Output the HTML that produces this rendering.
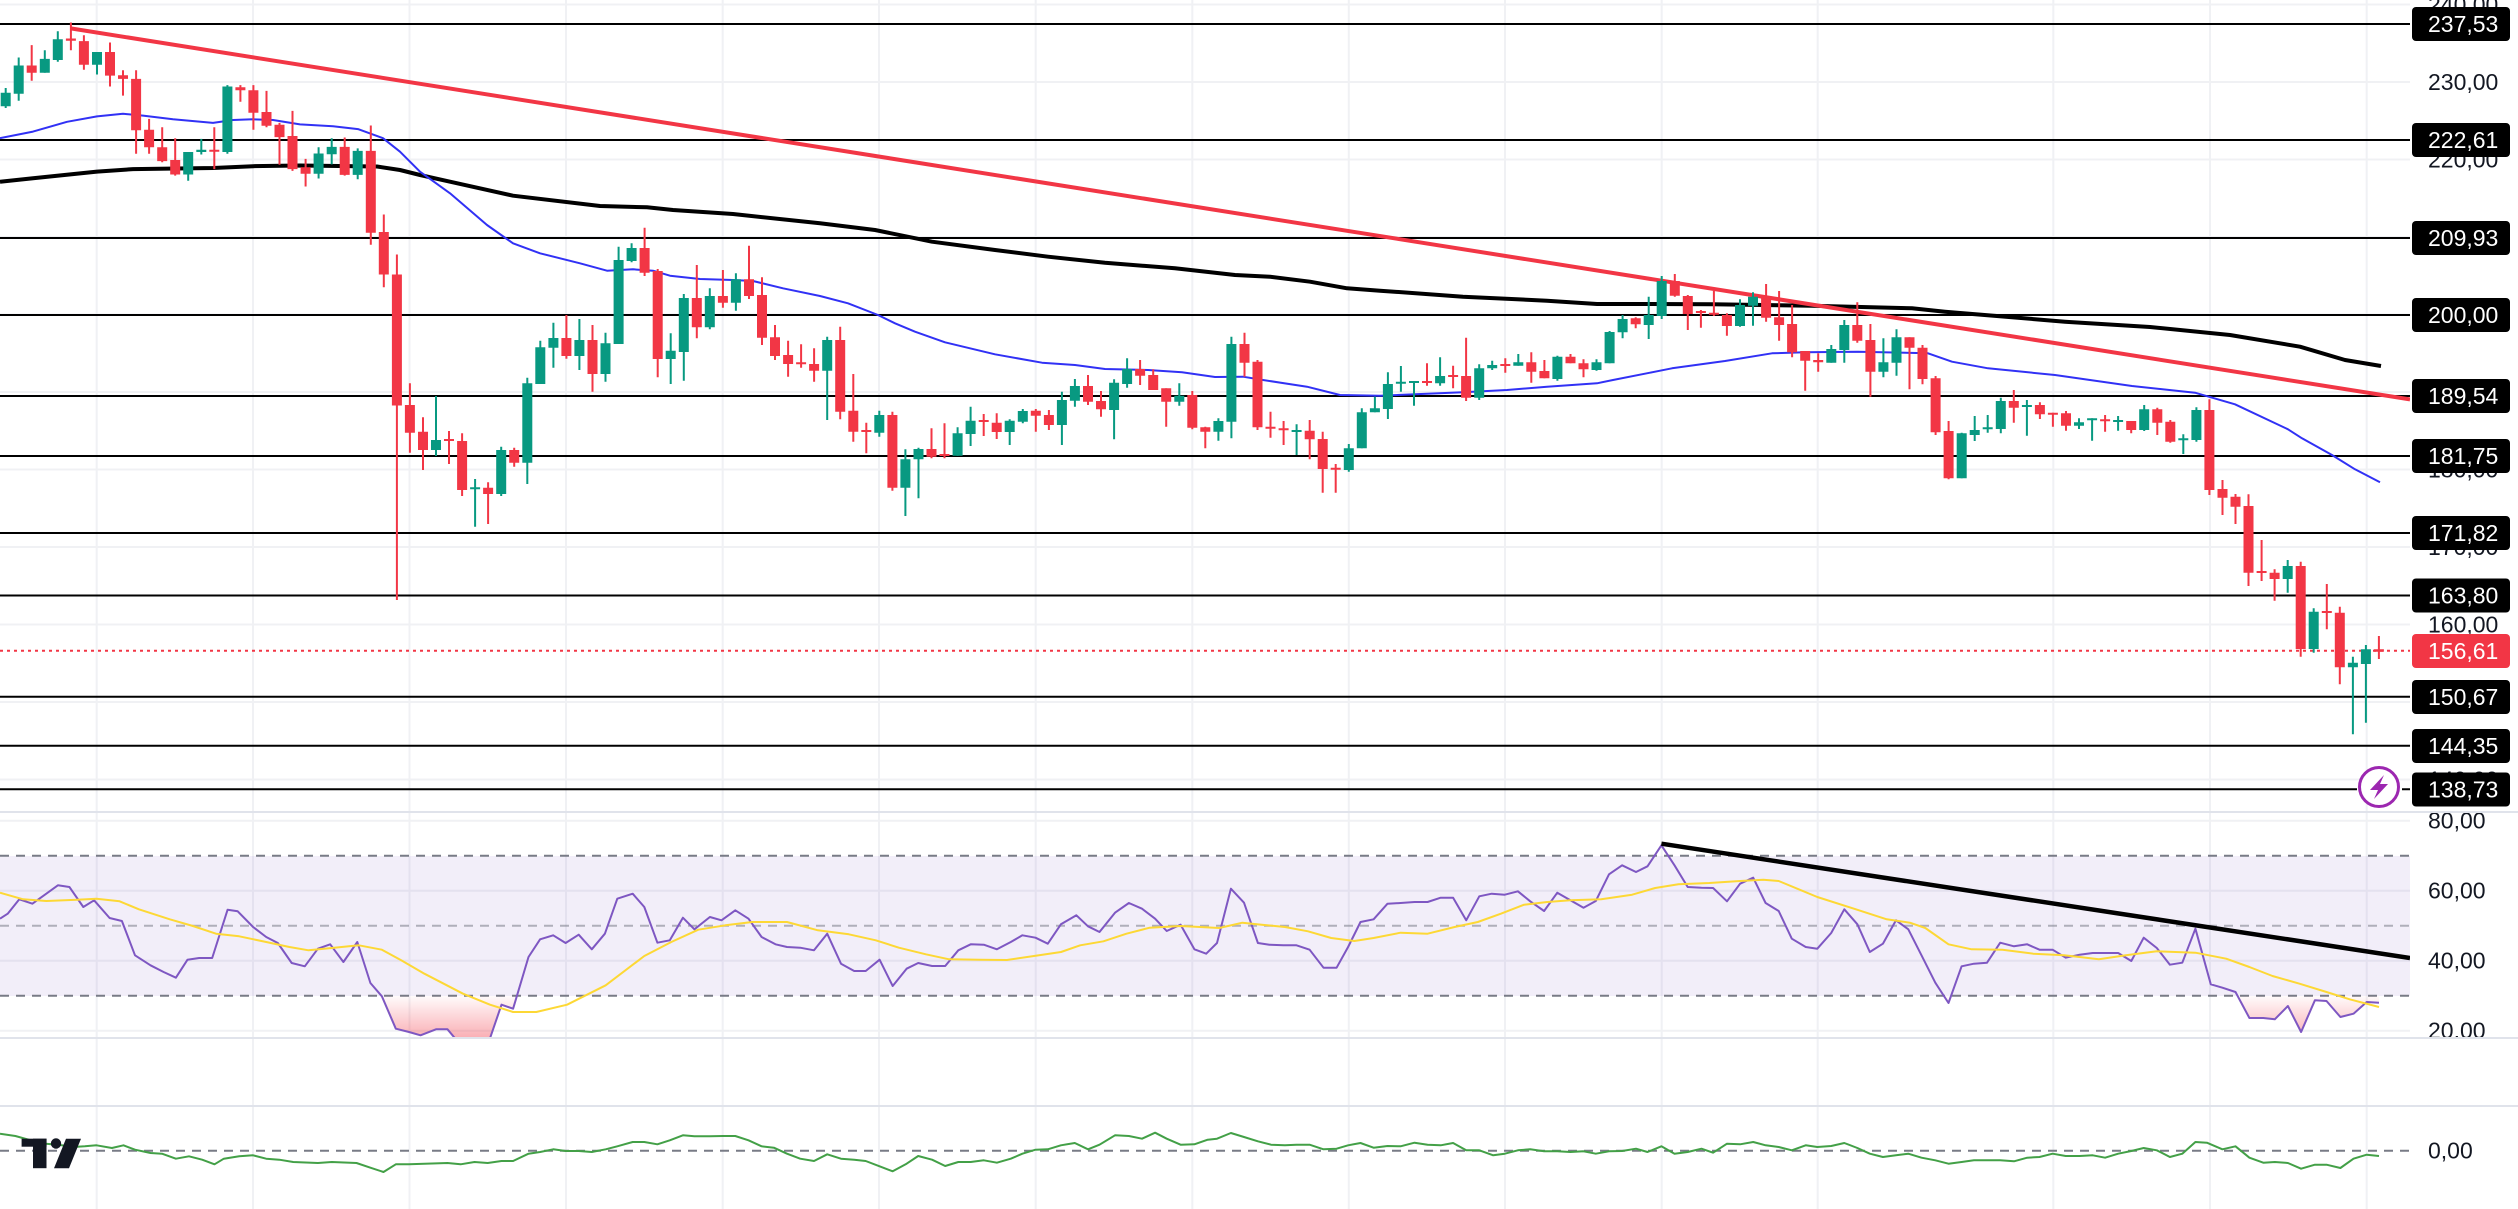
<!DOCTYPE html>
<html><head><meta charset="utf-8"><style>
html,body{margin:0;padding:0;background:#fff;}
body{width:2518px;height:1209px;overflow:hidden;}
svg{display:block;}
text{font-family:"Liberation Sans",sans-serif;font-size:23px;}
</style></head><body>
<svg width="2518" height="1209" viewBox="0 0 2518 1209" xmlns="http://www.w3.org/2000/svg">
<defs>
<clipPath id="cm"><rect x="0" y="0" width="2410" height="811"/></clipPath>
<clipPath id="cr"><rect x="0" y="813" width="2410" height="224"/></clipPath>
<clipPath id="crl"><rect x="2410" y="813" width="108" height="224"/></clipPath>
<clipPath id="cml"><rect x="2410" y="0" width="108" height="811"/></clipPath>
<clipPath id="cpink"><rect x="0" y="996" width="2410" height="41"/></clipPath>
<clipPath id="cb"><rect x="0" y="1107" width="2410" height="102"/></clipPath>
<linearGradient id="pg" gradientUnits="userSpaceOnUse" x1="0" y1="996" x2="0" y2="1038">
<stop offset="0" stop-color="#F23645" stop-opacity="0.02"/>
<stop offset="1" stop-color="#F23645" stop-opacity="0.4"/>
</linearGradient>
</defs>
<rect x="0" y="0" width="2518" height="1209" fill="#fff"/>

<path d="M96.7 0V1209M253 0V1209M409.5 0V1209M566 0V1209M722.7 0V1209M879 0V1209M1035.7 0V1209M1192.3 0V1209M1348.8 0V1209M1505 0V1209M1661.7 0V1209M1817.7 0V1209M2053.3 0V1209M2210 0V1209M2366.7 0V1209" stroke="#F0F1F4" stroke-width="2"/>
<path d="M0 4.5H2410M0 82H2410M0 159.5H2410M0 237H2410M0 314.5H2410M0 392H2410M0 469.5H2410M0 547H2410M0 624.5H2410M0 702H2410M0 779.5H2410" stroke="#F0F1F4" stroke-width="2"/>

<g clip-path="url(#cm)">
<path d="M0 24H2410M0 140H2410M0 238H2410M0 315H2410M0 396H2410M0 456H2410M0 533H2410M0 595.5H2410M0 696.8H2410M0 745.8H2410M0 789.3H2357M2402 789.3H2410" stroke="#000" stroke-width="2" fill="none"/>
<path d="M0 650.8H2410" stroke="#F23645" stroke-width="2" stroke-dasharray="3 4"/>
<polyline fill="none" stroke="#000" stroke-width="4" stroke-linejoin="round" points="0,181.8 33,178.2 97,171.6 133,169.1 213,168 253,166.2 300,165.5 377,166.5 400,170 420,175 450,181.7 513,195.7 600,206 647,207.3 673,210 733,214 820,223.3 875,230 932,241.7 995,250 1048,256.7 1105,262.7 1175,268.3 1235,275 1270,276.7 1310,281.7 1347,288.3 1380,290.7 1463,296.7 1547,300.7 1597,304 1650,304 1712,304.3 1812,305.7 1912,308.3 1945,311.7 2012,317.3 2065,321.7 2150,327 2230,335 2300,346.7 2345,360 2381,366"/>
<polyline fill="none" stroke="#3131F5" stroke-width="2" stroke-linejoin="round" points="0,138.2 33,131.6 67,121.8 97,116.4 123,113.8 143,115.6 173,119.3 213,122.9 233,120 253,119.3 273,120 300,124.4 333,126.2 358,129.1 383,138.2 400,151.7 420,171.7 450,193.3 487,225 513,243.3 540,253.3 580,263.3 607,270.7 633,269.3 653,270.7 670,275.7 700,279 733,280 753,281 783,288.3 820,296 848,303.3 878,315 895,323.3 915,331.7 945,342.3 995,354.3 1042,362.7 1075,365 1105,369 1148,370 1182,372.3 1215,377 1243,376.7 1263,380 1307,386.7 1340,395 1380,395.7 1463,392.3 1507,390 1547,386.7 1597,383.3 1613,380 1650,372.7 1672,368.3 1725,361 1772,353.3 1805,352.3 1858,351.7 1928,353.3 1952,361.7 1988,368.3 2055,375 2132,386 2195,392.7 2235,404.3 2288,429.3 2302,438.3 2332,455 2355,469.3 2380,482.3"/>
<path d="M70.7 28.4L2410 399.4" stroke="#F23645" stroke-width="4" fill="none"/>

<path fill="none" stroke="#089981" stroke-width="2" d="M5.7 88V108M18.7 57.5V100.7M44.8 50.2V72.7M57.8 31.3V61.8M97 52V74.5M188.2 152V180.7M201.3 138.9V154.5M227.4 85.1V153.8M318.6 147.3V178.5M331.7 138.2V164.4M357.7 148.4V179.3M436 396V456M475.1 479V526.7M501.2 446.7V496M527.3 377.7V484M540.3 340.7V384M553.4 322.7V367.7M579.4 319V370M605.5 332.7V381.7M618.6 246.7V344M631.6 243.3V262.3M670.7 333.3V384M683.8 294V380.7M709.8 288.3V329.3M735.9 273.3V310.7M827.2 336.7V420M879.3 410.7V436.7M905.4 449.3V516M918.5 447.7V498.3M957.6 427.3V455.7M970.6 406.7V446M1009.7 419.3V445M1022.8 409V423.3M1061.9 391.7V445M1074.9 379V406.7M1114.1 379.3V439.3M1127.1 358.3V387.7M1179.3 383.3V405.7M1218.4 418.3V440.7M1231.4 336.7V438.3M1296.6 424.3V455M1348.8 444V471.7M1361.8 408.3V448.3M1374.9 396.7V412.3M1387.9 372.3V419M1400.9 366V391.7M1414 381V405.7M1440.1 357.3V385.7M1479.2 364.3V400M1492.2 360.7V370M1518.3 354V365.7M1557.4 355.7V380.7M1596.5 359.3V370.7M1609.6 331V363.3M1622.6 315V338.3M1648.7 296.7V339M1661.7 276V319M1740 299.3V326.7M1753 292.3V325.7M1831.3 345V362.7M1844.3 320V362.7M1883.4 338.3V377.3M1896.5 329.3V375.7M1961.7 432.7V478.3M1974.7 416V441M1987.7 415V432.7M2000.8 397.7V433.3M2026.9 400V435.7M2079 418.3V429M2092.1 418.3V440.7M2118.1 416V430.7M2144.2 405V431M2183.3 434.3V454M2196.4 407.3V441.7M2287.7 560V592.7M2313.7 608.3V652.7M2352.9 656.7V734.3M2365.9 645V722.7"/>
<path fill="#089981" d="M0.7 92.7h10V106.2h-10zM13.7 65.5h10V93.8h-10zM39.8 58.9h10V72.7h-10zM52.8 39.3h10V60h-10zM92 52h10V64.7h-10zM183.2 152h10V174.5h-10zM196.3 149.8h10V152h-10zM222.4 86.5h10V152h-10zM313.6 153.5h10V173.8h-10zM326.7 146.9h10V154.2h-10zM352.7 150.9h10V174.9h-10zM431 440h10V450h-10zM470.1 487.3h10V489.3h-10zM496.2 450h10V494h-10zM522.3 383.3h10V462.7h-10zM535.3 347.3h10V384h-10zM548.4 338h10V347.7h-10zM574.4 340h10V356h-10zM600.5 343.3h10V374h-10zM613.6 260h10V344h-10zM626.6 248h10V261h-10zM665.7 350.7h10V359h-10zM678.8 298h10V352h-10zM704.8 296h10V327.3h-10zM730.9 279.3h10V302.7h-10zM822.2 340h10V370.7h-10zM874.3 415h10V432.7h-10zM900.4 459.3h10V487.7h-10zM913.5 449h10V459.3h-10zM952.6 433.3h10V455.7h-10zM965.6 420.7h10V434h-10zM1004.7 420.7h10V432h-10zM1017.8 411h10V421.7h-10zM1056.9 400h10V425h-10zM1069.9 386h10V400.7h-10zM1109.1 382.7h10V410h-10zM1122.1 369h10V384h-10zM1174.3 395.7h10V401.7h-10zM1213.4 421h10V431.7h-10zM1226.4 344h10V421.7h-10zM1291.6 430h10V432h-10zM1343.8 448.3h10V470h-10zM1356.8 412.3h10V448.3h-10zM1369.9 408.3h10V412.3h-10zM1382.9 384h10V409h-10zM1395.9 381.7h10V383.7h-10zM1409 381h10V383h-10zM1435.1 376h10V383.3h-10zM1474.2 368.3h10V397.7h-10zM1487.2 365h10V368.3h-10zM1513.3 362.3h10V365.7h-10zM1552.4 356.7h10V379h-10zM1591.5 362.3h10V370h-10zM1604.6 332h10V363.3h-10zM1617.6 319h10V332.3h-10zM1643.7 315h10V325h-10zM1656.7 281h10V316h-10zM1735 305h10V326h-10zM1748 296.7h10V305.7h-10zM1826.3 349h10V362.7h-10zM1839.3 325h10V350h-10zM1878.4 362.3h10V371.7h-10zM1891.5 337.3h10V362.7h-10zM1956.7 433.3h10V478.3h-10zM1969.7 430h10V435h-10zM1982.7 427.3h10V429.3h-10zM1995.8 401h10V429h-10zM2021.9 405h10V407h-10zM2074 422.3h10V425.7h-10zM2087.1 418.3h10V420.3h-10zM2113.1 420h10V422h-10zM2139.2 409.3h10V430h-10zM2178.3 438.3h10V440.3h-10zM2191.4 410h10V440h-10zM2282.7 566h10V579h-10zM2308.7 611.7h10V649h-10zM2347.9 662.7h10V667.3h-10zM2360.9 649.3h10V664h-10z"/>
<path fill="none" stroke="#F23645" stroke-width="2" d="M31.7 45.1V80.7M70.9 22.5V50.2M83.9 35.3V69.8M110 42.5V86.5M123 70.2V95.6M136.1 70.2V153.8M149.1 118.9V153.8M162.2 127.3V162.2M175.2 138.2V175.6M214.3 127.3V169.1M240.4 85.1V101.8M253.4 85.1V129.8M266.5 90.9V127.3M279.5 122.9V164.7M292.5 110.9V170.9M305.6 158.9V186.5M344.7 137.5V175.6M370.8 125.5V244.7M383.8 214.5V287.3M396.9 254.5V600M409.9 383.3V452.7M423 417.3V470M449 431V464M462.1 433.3V496M488.1 482.3V524M514.2 447.7V466.7M566.4 315V358.7M592.5 325V391.7M644.6 227.7V276M657.7 269V377.3M696.8 265V338.3M722.9 270V307.7M749 245.7V299M762 277.3V345M775 325V360M788.1 340.7V376.7M801.1 344.3V367.7M814.1 348.3V381.7M840.2 326.7V419.3M853.3 374V441.7M866.3 422.7V453.3M892.4 411.7V490.7M931.5 428.3V458.3M944.5 423.3V458.3M983.7 414V436M996.7 413.3V439M1035.8 409V431.7M1048.9 410V430M1088 375V405M1101 391V416.7M1140.1 360V385M1153.2 369.3V390M1166.2 388.3V426.7M1192.3 391V429.3M1205.3 426.7V448.3M1244.5 332.7V376.7M1257.5 360V430M1270.5 411.7V437.7M1283.6 421V445M1309.7 420V459.3M1322.7 431.7V492.7M1335.7 464V492.7M1427 363.3V385.7M1453.1 365.7V388.3M1466.1 337.7V401M1505.3 358.3V372.7M1531.3 352.3V382.7M1544.4 360V378.3M1570.5 354V363.3M1583.5 359.3V377.3M1635.7 317.3V328.3M1674.8 274V296.7M1687.8 295V330M1700.9 310V327.7M1713.9 291V316M1726.9 313.3V335.7M1766.1 284V321.7M1779.1 291V340.7M1792.1 305V357.3M1805.2 351V390.7M1818.2 353.3V371.7M1857.3 302.3V342.7M1870.4 324V396.7M1909.5 337.3V389.3M1922.5 345V384.3M1935.6 376V435M1948.6 421V479.3M2013.8 390V422.7M2039.9 402.3V419M2052.9 412.7V426.7M2066 411V430.7M2105.1 415V431.7M2131.2 421V433.3M2157.3 407.7V435M2170.3 420V442.7M2209.4 399.3V495M2222.5 480V515M2235.5 494V524M2248.5 494.3V586M2261.6 540V581M2274.6 569.3V600.7M2300.7 561.7V656.7M2326.8 584V629.3M2339.8 606.7V684.3M2378.9 636V659"/>
<path fill="#F23645" d="M26.7 65.5h10V72.7h-10zM65.9 38.5h10V40.7h-10zM78.9 41.1h10V64.7h-10zM105 52h10V75.6h-10zM118 75.3h10V78.9h-10zM131.1 78.9h10V130.2h-10zM144.1 129.8h10V147.3h-10zM157.2 147.3h10V161.1h-10zM170.2 160h10V174.5h-10zM209.3 149.8h10V151.8h-10zM235.4 87.3h10V90.2h-10zM248.4 90.2h10V112.7h-10zM261.5 112h10V125.8h-10zM274.5 124.7h10V137.1h-10zM287.5 136h10V169.1h-10zM300.6 167.3h10V173.8h-10zM339.7 146.9h10V174.9h-10zM365.8 150.9h10V232.7h-10zM378.8 232h10V274.5h-10zM391.9 274.5h10V405.5h-10zM404.9 405h10V432.7h-10zM418 431.7h10V450h-10zM444 439h10V441h-10zM457.1 441h10V490h-10zM483.1 487.7h10V494h-10zM509.2 450h10V462.7h-10zM561.4 338h10V356h-10zM587.5 340h10V374h-10zM639.6 248h10V272.7h-10zM652.7 271h10V359h-10zM691.8 298h10V327.3h-10zM717.9 296h10V302.7h-10zM744 279.3h10V296h-10zM757 295h10V337.7h-10zM770 337.3h10V356h-10zM783.1 355h10V364h-10zM796.1 362.3h10V364.3h-10zM809.1 364h10V370.7h-10zM835.2 340h10V411.7h-10zM848.3 410.7h10V431.7h-10zM861.3 430h10V432h-10zM887.4 415h10V487.7h-10zM926.5 449h10V456.7h-10zM939.5 454h10V456h-10zM978.7 420h10V422h-10zM991.7 422.7h10V432h-10zM1030.8 410.7h10V415.7h-10zM1043.9 415h10V425h-10zM1083 386h10V401.7h-10zM1096 401h10V409.3h-10zM1135.1 369h10V375.7h-10zM1148.2 375h10V390h-10zM1161.2 388.3h10V401.7h-10zM1187.3 395h10V427.7h-10zM1200.3 427.3h10V431.7h-10zM1239.5 344h10V362.7h-10zM1252.5 361.7h10V427.3h-10zM1265.5 426.7h10V428.7h-10zM1278.6 428.3h10V430.3h-10zM1304.7 430.7h10V439.3h-10zM1317.7 439h10V469h-10zM1330.7 467.7h10V469.7h-10zM1422 381h10V383h-10zM1448.1 375h10V377h-10zM1461.1 376h10V397.7h-10zM1500.3 364h10V366h-10zM1526.3 362.3h10V371.7h-10zM1539.4 371h10V378.3h-10zM1565.5 356.7h10V363.3h-10zM1578.5 363.3h10V369.3h-10zM1630.7 318.3h10V324.3h-10zM1669.8 281h10V295.7h-10zM1682.8 296h10V314h-10zM1695.9 311h10V313h-10zM1708.9 312.7h10V314.7h-10zM1721.9 315h10V326h-10zM1761.1 296h10V317.7h-10zM1774.1 317.3h10V325h-10zM1787.1 324h10V352.3h-10zM1800.2 351h10V360.7h-10zM1813.2 360h10V362.3h-10zM1852.3 325h10V340.7h-10zM1865.4 340h10V371.7h-10zM1904.5 337.3h10V347.7h-10zM1917.5 347.7h10V379h-10zM1930.6 378.3h10V432.3h-10zM1943.6 431h10V478.3h-10zM2008.8 401h10V407.7h-10zM2034.9 405h10V414.3h-10zM2047.9 412.7h10V414.7h-10zM2061 413.3h10V425.7h-10zM2100.1 419.3h10V421.3h-10zM2126.2 421h10V430h-10zM2152.3 409.3h10V422.7h-10zM2165.3 421.7h10V441.7h-10zM2204.4 410h10V490h-10zM2217.5 489h10V497.7h-10zM2230.5 496.7h10V506.7h-10zM2243.5 506h10V572.7h-10zM2256.6 571h10V573h-10zM2269.6 572.7h10V579h-10zM2295.7 566h10V649h-10zM2321.8 611h10V613h-10zM2334.8 612.7h10V667.3h-10zM2373.9 649.3h10V651.7h-10z"/>

<circle cx="2379" cy="787" r="19.5" fill="#fff" stroke="#9C27B0" stroke-width="3"/>
<polygon points="2384,775 2370,790 2378,790 2374,799 2388,784 2380,784" fill="#9C27B0"/>
</g>

<g clip-path="url(#cml)" fill="#131722">
<text x="2428" y="12.5">240,00</text>
<text x="2428" y="90">230,00</text>
<text x="2428" y="167.5">220,00</text>
<text x="2428" y="477.5">180,00</text>
<text x="2428" y="555">170,00</text>
<text x="2428" y="632.5">160,00</text>
<text x="2428" y="787.5">140,00</text>
</g>
<g>
<rect x="2412" y="7" width="98" height="34" rx="4" fill="#000"/><text x="2428" y="32" fill="#fff">237,53</text>
<rect x="2412" y="123" width="98" height="34" rx="4" fill="#000"/><text x="2428" y="148" fill="#fff">222,61</text>
<rect x="2412" y="221" width="98" height="34" rx="4" fill="#000"/><text x="2428" y="246" fill="#fff">209,93</text>
<rect x="2412" y="298" width="98" height="34" rx="4" fill="#000"/><text x="2428" y="323" fill="#fff">200,00</text>
<rect x="2412" y="379" width="98" height="34" rx="4" fill="#000"/><text x="2428" y="404" fill="#fff">189,54</text>
<rect x="2412" y="439" width="98" height="34" rx="4" fill="#000"/><text x="2428" y="464" fill="#fff">181,75</text>
<rect x="2412" y="516" width="98" height="34" rx="4" fill="#000"/><text x="2428" y="541" fill="#fff">171,82</text>
<rect x="2412" y="578.5" width="98" height="34" rx="4" fill="#000"/><text x="2428" y="603.5" fill="#fff">163,80</text>
<rect x="2412" y="634" width="98" height="34" rx="4" fill="#F23645"/><text x="2428" y="659" fill="#fff">156,61</text>
<rect x="2412" y="680" width="98" height="34" rx="4" fill="#000"/><text x="2428" y="705" fill="#fff">150,67</text>
<rect x="2412" y="729" width="98" height="34" rx="4" fill="#000"/><text x="2428" y="754" fill="#fff">144,35</text>
<rect x="2412" y="772.5" width="98" height="34" rx="4" fill="#000"/><text x="2428" y="797.5" fill="#fff">138,73</text>
</g>

<path d="M0 812H2518M0 1038H2518M0 1106H2518" stroke="#E0E3EB" stroke-width="2"/>

<g clip-path="url(#cr)">
<path d="M0 820.7H2410M0 890.7H2410M0 960.7H2410M0 1030.7H2410" stroke="#F0F1F4" stroke-width="2"/>
<rect x="0" y="856" width="2410" height="140" fill="#7E57C2" fill-opacity="0.1"/>
<path d="M0 855.7H2410M0 995.7H2410" stroke="#787B86" stroke-width="2" stroke-dasharray="9 7"/>
<path d="M0 925.7H2410" stroke="#787B86" stroke-opacity="0.55" stroke-width="2" stroke-dasharray="9 7"/>
<g clip-path="url(#cpink)" fill="url(#pg)">
<polygon points="357.3,996 357.3,942 370.4,983 381.9,996.3 395.8,1028.7 409,1032 420.5,1035.3 436,1029.3 447.5,1029.3 460.6,1045 487.7,1045 501.5,1004.7 513.1,1008.7 528.5,957 528.5,996"/>
<polygon points="1935.3,996 1935.3,982.7 1948.5,1003 1961.6,966.3 1961.6,996"/>
<polygon points="2222.4,996 2222.4,987.7 2235.5,992 2249.4,1018 2263.3,1018 2274.8,1019.3 2287.9,1006 2301.1,1032 2314.9,1000.3 2326.5,1001 2340.4,1017 2353.5,1013.7 2366.7,1002 2379,1002.7 2379,996"/>
</g>
<polyline fill="none" stroke="#7E57C2" stroke-width="2" stroke-linejoin="round" points="0,918.7 7.7,913.7 19.3,899.3 32.4,903.7 46.3,893.7 57.9,885.3 69.4,887 83.3,907 94.1,900.3 109.6,918 121.9,921 135,955.3 150.5,965.3 163.6,972 175.9,977.7 187.5,959.7 199.1,958 212.2,958 227.6,909.7 237.7,911.3 253.1,927 266.2,937 277.8,943 291.7,963 304.8,966.3 317.9,948.7 330.2,944.3 343.4,962 357.3,942 370.4,983 381.9,996.3 395.8,1028.7 409,1032 420.5,1035.3 436,1029.3 447.5,1029.3 460.6,1045 487.7,1045 501.5,1004.7 513.1,1008.7 528.5,957 540.1,939.3 553.2,935.3 565.6,943 578.7,934.7 591.8,949.3 604.9,933.7 617.3,898.7 632.7,893.7 644.3,907 657.4,942.7 669.8,940.3 682.9,917.7 694.4,929.3 709.9,917 721.5,920.3 735.3,910.3 748.5,918.7 761.6,937 775.5,944.3 787,947 800.2,947.7 814,950.3 827.2,933.7 841,963.7 854.2,971 865.7,971 879.6,959.7 892.7,986 906.6,968.7 918.2,963 932.1,966 945.2,966 958.3,950.3 970.7,944.3 983.8,944.7 996.9,949.3 1010.8,942 1022.4,935.3 1035.5,937.7 1047.8,943.7 1060.9,924.3 1076.4,915.3 1088,926.3 1099.5,932 1115,912.7 1128.9,903 1142,908.7 1155.1,918.7 1166.7,931 1180.6,924.7 1194.4,949.3 1206.2,953.7 1217,943 1230.9,888.7 1244,902.7 1257.9,943 1269.4,944.7 1283.3,945.3 1296.5,945.3 1309.6,949.7 1323.5,967.7 1336.6,967.7 1348.1,947 1360.5,922 1373.6,919.3 1387.5,903.7 1400.6,903 1414.5,902 1427.6,902 1440.7,897.7 1453.1,897.7 1466.2,920.3 1479.3,896.3 1491.7,893.7 1504.8,894.7 1517.9,891.3 1530.2,901.3 1544.1,911 1557.3,892.7 1570.4,900.3 1583.5,907.7 1595.8,901 1609,874.3 1622.1,865.3 1636,872 1647.5,866.3 1661.4,845.3 1674.5,865.3 1687.7,887 1701.5,887.7 1713.1,888 1727,901.3 1740.1,883.7 1753.2,877.7 1765.6,903 1778.7,911 1791.8,938.7 1805.7,947 1817.3,948.7 1831.2,933 1844.3,909.3 1857.4,924.3 1869.8,952 1882.9,943.7 1896,920.3 1908.3,929.3 1921.5,955.3 1935.3,982.7 1948.5,1003 1961.6,966.3 1973.9,963.7 1987,962.7 2000.2,942.7 2014,946.3 2027.2,944.3 2039.5,949.7 2052.6,949.7 2065.7,957.7 2079.6,954.7 2092.7,953 2105.1,953 2118.2,953 2131.3,961 2143.7,937.7 2156.8,948 2169.9,964.7 2182.3,962.7 2195.4,928.7 2210.8,984.3 2222.4,987.7 2235.5,992 2249.4,1018 2263.3,1018 2274.8,1019.3 2287.9,1006 2301.1,1032 2314.9,1000.3 2326.5,1001 2340.4,1017 2353.5,1013.7 2366.7,1002 2379,1002.7"/>
<polyline fill="none" stroke="#FDD835" stroke-width="2" stroke-linejoin="round" points="0,892.7 23.1,899.3 46.3,901 77.2,899.7 96.5,898.7 119.6,901.3 138.9,909.3 169.8,919.3 192.9,926 216,933.7 239.2,936.3 266.2,942 289.4,947 308.6,950.3 331.8,948 358.8,945.3 381.9,949.7 401.2,960.3 424.4,973.7 463,993.7 490,1004.7 513.1,1012 536.3,1012 567.1,1004.7 605.7,985.3 644.3,956 671.3,942 698.3,929.7 725.3,925.3 752.3,922 787,922 817.9,930.3 848.8,934.3 875.8,940.3 898.9,947.7 925.9,954.3 949.1,959.3 979.9,959.7 1006.9,960 1034,956 1061,952 1080.2,945.3 1103.4,941.3 1126.5,933.7 1149.7,927.7 1180.6,926 1200,927 1219.3,928 1242.4,922.7 1261.7,924.7 1284.9,927 1308,931.3 1331.2,938 1354.3,941 1373.6,938 1400.6,932.7 1427.6,933.7 1454.6,927 1477.8,922 1500.9,913.7 1524.1,904.7 1547.2,902 1570.4,900.3 1601.2,899.3 1632.1,894.7 1655.2,888 1678.4,884.3 1709.3,883 1740.1,881 1763.3,879.7 1778.7,881 1817.3,897 1855.9,909.3 1886.7,919.3 1909.9,922.7 1925.3,928 1948.5,944.3 1971.6,949.3 2002.5,949.7 2033.3,953.7 2064.2,955.3 2098.9,959.3 2125.9,955.3 2156.8,951.3 2195.4,952.7 2226.2,958.7 2249.4,967 2272.5,976 2299.5,983.7 2326.5,992 2349.7,999.3 2379,1007"/>
<path d="M1661.4 843.7L2410 958" stroke="#000" stroke-width="4.5" fill="none"/>
</g>
<g clip-path="url(#crl)" fill="#131722">
<text x="2428" y="828.7">80,00</text>
<text x="2428" y="898.7">60,00</text>
<text x="2428" y="968.7">40,00</text>
<text x="2428" y="1038.7">20,00</text>
</g>

<g clip-path="url(#cb)">
<path d="M0 1150.7H2410" stroke="#787B86" stroke-width="2" stroke-dasharray="9 7"/>
<polyline fill="none" stroke="#43A047" stroke-width="2" stroke-linejoin="round" points="0,1133.7 15.4,1136 30.9,1140.3 46.3,1143.7 61.7,1145.3 73.3,1147 84.9,1146.3 96.5,1145.3 111.9,1148 123.5,1145.3 135,1149.7 150.5,1153 162,1153.7 175.9,1158.7 189,1156.3 202.2,1159.7 214.5,1164.3 223.8,1158.7 239.2,1156.3 253.1,1155.3 266.2,1158.7 279.3,1159.7 293.2,1162 317.9,1163 331.8,1162 356.5,1163 370.4,1167.7 383.5,1172 395.8,1164.3 409,1164.3 447.5,1163 460.6,1164.3 474.5,1162 487.7,1163 501.5,1161 513.1,1161 528.5,1153.7 540.1,1152 553.2,1149.3 565.6,1151 578.7,1151 591.8,1152 605.7,1149.3 617.3,1146.3 632.7,1142 644.3,1142 657.4,1144.3 669.8,1140.3 682.9,1135.3 694.4,1136.3 709.9,1136.3 723,1136 735.3,1136 748.5,1140.3 761.6,1146.3 773.9,1147.7 787,1153.7 800.2,1158.7 814,1161 827.2,1154.3 841,1158.7 854.2,1159.7 865.7,1161 879.6,1166.3 892.7,1171.3 906.6,1163.7 918.2,1156 932.1,1159.7 945.2,1166 958.3,1162 970.7,1162 983.8,1160.3 996.9,1162.7 1010.8,1158.7 1022.4,1153.7 1035.5,1149.7 1047.8,1149.3 1060.9,1145.3 1074.8,1143 1088,1149.3 1099.5,1144.7 1115,1135.3 1128.9,1136 1142,1138.7 1155.1,1132.7 1166.7,1138.7 1180.6,1144.7 1194.4,1144.3 1207.7,1139.7 1217,1138.7 1230.9,1133 1244,1137 1257.9,1141.3 1271,1144.7 1284.9,1145.3 1296.5,1144.7 1309.6,1144.7 1323.5,1149.3 1336.6,1148.7 1348.1,1145.3 1360.5,1143 1373.6,1147.7 1387.5,1146 1400.6,1146.3 1414.5,1142.7 1427.6,1144.7 1440.7,1145.3 1453.1,1143 1466.2,1150.3 1479.3,1150.3 1493.2,1155.3 1504.8,1153.7 1517.9,1150.3 1530.2,1149.3 1544.1,1151.3 1557.3,1151.3 1570.4,1152 1583.5,1151.3 1595.8,1153.7 1609,1151.3 1622.1,1151 1636,1148.7 1647.5,1152 1661.4,1146.3 1674.5,1153.7 1687.7,1152 1701.5,1148.7 1713.1,1152.7 1727,1143.7 1740.1,1144.3 1753.2,1142 1765.6,1145.3 1778.7,1147 1791.8,1150.3 1805.7,1145.3 1817.3,1147 1831.2,1146 1844.3,1143 1857.4,1148 1869.8,1153.7 1882.9,1157 1896,1155.3 1908.3,1153.7 1921.5,1157.7 1935.3,1160.3 1948.5,1163.7 1961.6,1162 1973.9,1160.3 1987,1160.3 2000.2,1160.3 2014,1161.3 2027.2,1157.7 2039.5,1157 2052.6,1153.7 2065.7,1156 2079.6,1156 2092.7,1155.3 2105.1,1157.7 2118.2,1153.7 2131.3,1151 2143.7,1148 2156.8,1150.3 2169.9,1157 2182.3,1153.7 2195.4,1142 2206.9,1142.7 2222.4,1149.3 2235.5,1146.3 2249.4,1157.7 2263.3,1162.7 2274.8,1162 2287.9,1163 2301.1,1168.7 2314.9,1164.7 2326.5,1164.7 2340.4,1168 2353.5,1158.7 2366.7,1154.7 2379,1156"/>
<g fill="#131722">
<rect x="21.6" y="1138.7" width="25" height="8"/>
<rect x="33" y="1138.7" width="13.5" height="29.5"/>
<circle cx="56" cy="1143.5" r="5.2"/>
<polygon points="66,1138.7 81,1138.7 69,1168.2 54,1168.2"/>
</g>
</g>
<text x="2428" y="1158.7" fill="#131722">0,00</text>
</svg>
</body></html>
